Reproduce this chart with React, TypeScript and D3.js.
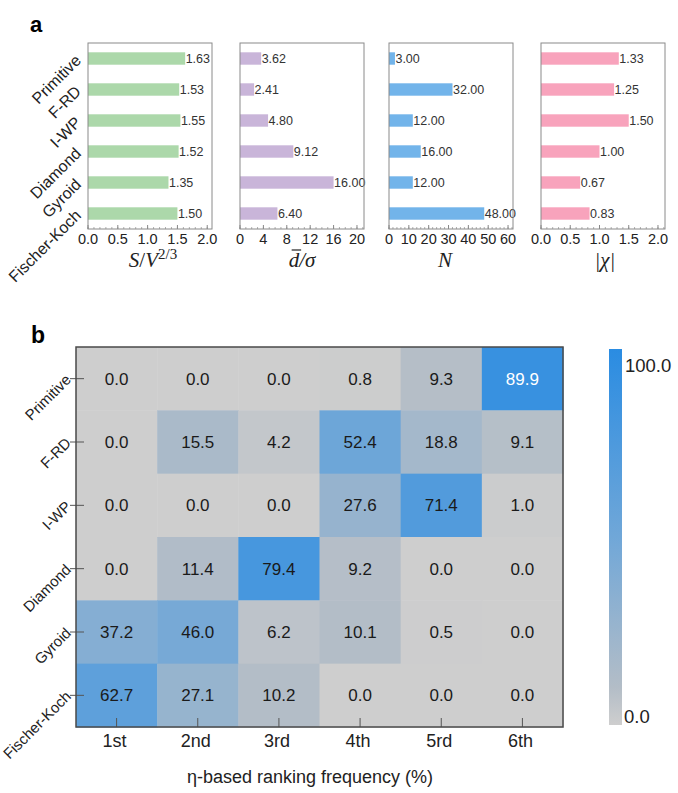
import React, { useEffect, useRef } from "react";
import * as d3 from "d3";

const structures = ["Primitive", "F-RD", "I-WP", "Diamond", "Gyroid", "Fischer-Koch"];

// panel a values, top to bottom
const surfaceToVolume = [1.63, 1.53, 1.55, 1.52, 1.35, 1.5];
const distanceRatio = [3.62, 2.41, 4.8, 9.12, 16.0, 6.4];
const genusN = [3, 32, 12, 16, 12, 48];
const eulerChi = [1.33, 1.25, 1.5, 1.0, 0.67, 0.83];

const svTicks = [0, 0.5, 1.0, 1.5, 2.0];
const dTicks = [0, 4, 8, 12, 16, 20];
const nTicks = [0, 10, 20, 30, 40, 50, 60];
const chiTicks = [0, 0.5, 1.0, 1.5, 2.0];

// panel b
const ranks = ["1st", "2nd", "3rd", "4th", "5rd", "6th"];
const freqPrimitive = [0.0, 0.0, 0.0, 0.8, 9.3, 89.9];
const freqFRD = [0.0, 15.5, 4.2, 52.4, 18.8, 9.1];
const freqIWP = [0.0, 0.0, 0.0, 27.6, 71.4, 1.0];
const freqDiamond = [0.0, 11.4, 79.4, 9.2, 0.0, 0.0];
const freqGyroid = [37.2, 46.0, 6.2, 10.1, 0.5, 0.0];
const freqFK = [62.7, 27.1, 10.2, 0.0, 0.0, 0.0];
const colorStops = [0, 10, 50, 100];

const SANS = "'Liberation Sans', Arial, sans-serif";
const SERIF = "'Liberation Serif', 'Times New Roman', serif";

const App = () => {
  const ref = useRef<SVGSVGElement>(null);

  useEffect(() => {
    if (!ref.current) return;
    const svg = d3.select(ref.current);
    svg.selectAll("*").remove();

    // ---------- panel a ----------
    const top = 43;
    const bottom = 229;
    const y = d3.scaleBand<string>().domain(structures).range([top, bottom]).paddingInner(0.6).paddingOuter(0.3);

    const panels = [
      { left: 88, max: 2.08, values: surfaceToVolume, ticks: svTicks, minor: 0.1, fmt: d3.format(".1f"), color: "#acd8aa" },
      { left: 240, max: 21.2, values: distanceRatio, ticks: dTicks, minor: 1, fmt: d3.format("d"), color: "#c9b5d9" },
      { left: 389, max: 62.5, values: genusN, ticks: nTicks, minor: 2, fmt: d3.format("d"), color: "#72b4ea" },
      { left: 541, max: 2.12, values: eulerChi, ticks: chiTicks, minor: 0.1, fmt: d3.format(".1f"), color: "#f8a3bc" },
    ];
    const panelW = 124;

    panels.forEach((p) => {
      const x = d3.scaleLinear().domain([0, p.max]).range([p.left, p.left + panelW]);
      const g = svg.append("g");

      g.selectAll("rect.bar")
        .data(p.values)
        .enter()
        .append("rect")
        .attr("x", x(0))
        .attr("y", (d, i) => y(structures[i]) || 0)
        .attr("width", (d) => x(d) - x(0))
        .attr("height", y.bandwidth())
        .attr("fill", p.color);

      g.selectAll("text.val")
        .data(p.values)
        .enter()
        .append("text")
        .attr("x", (d) => x(d) + 0.5)
        .attr("y", (d, i) => (y(structures[i]) || 0) + y.bandwidth() / 2 + 4.5)
        .style("font-family", SANS)
        .style("font-size", "12.5px")
        .style("fill", "#333")
        .text((d) => d.toFixed(2));

      // minor + major ticks, pointing inward
      const minorTicks = d3.range(0, p.max + 1e-9, p.minor);
      g.selectAll("line.minor")
        .data(minorTicks)
        .enter()
        .append("line")
        .attr("x1", (d) => x(d))
        .attr("x2", (d) => x(d))
        .attr("y1", bottom)
        .attr("y2", bottom - 2)
        .attr("stroke", "#999")
        .attr("stroke-width", 0.8);
      g.selectAll("line.major")
        .data(p.ticks)
        .enter()
        .append("line")
        .attr("x1", (d) => x(d))
        .attr("x2", (d) => x(d))
        .attr("y1", bottom)
        .attr("y2", bottom - 4)
        .attr("stroke", "#888")
        .attr("stroke-width", 1);

      g.selectAll("text.tick")
        .data(p.ticks)
        .enter()
        .append("text")
        .attr("x", (d) => x(d))
        .attr("y", bottom + 15)
        .attr("text-anchor", "middle")
        .style("font-family", SANS)
        .style("font-size", "14.5px")
        .style("fill", "#222")
        .text((d) => p.fmt(d));

      g.append("rect")
        .attr("x", p.left)
        .attr("y", top)
        .attr("width", panelW)
        .attr("height", bottom - top)
        .attr("fill", "none")
        .attr("stroke", "#8a8a8a")
        .attr("stroke-width", 1);
    });

    // panel a category labels
    svg.selectAll("text.acat")
      .data(structures)
      .enter()
      .append("text")
      .attr("transform", (d) => `translate(82,${(y(d) || 0) + y.bandwidth() / 2 + 3}) rotate(-45)`)
      .attr("text-anchor", "end")
      .style("font-family", SANS)
      .style("font-size", "16px")
      .style("fill", "#222")
      .text((d) => d);

    // axis titles
    const titleY = 267;
    const t1 = svg.append("text").attr("x", 153).attr("y", titleY).attr("text-anchor", "middle")
      .style("font-family", SERIF).style("font-size", "21px").style("font-style", "italic").style("fill", "#222");
    t1.append("tspan").text("S");
    t1.append("tspan").text("/").style("font-style", "normal");
    t1.append("tspan").text("V");
    t1.append("tspan").attr("dy", -8).style("font-size", "15px").style("font-style", "normal").text("2/3");

    const t2 = svg.append("text").attr("x", 302).attr("y", titleY).attr("text-anchor", "middle")
      .style("font-family", SERIF).style("font-size", "21px").style("font-style", "italic").style("fill", "#222")
      .text("d/\u03c3");
    const t2node = t2.node() as SVGTextElement | null;
    if (t2node) {
      const box = t2node.getExtentOfChar(0);
      svg.append("line")
        .attr("x1", box.x + 3)
        .attr("x2", box.x + box.width + 2)
        .attr("y1", titleY - 17)
        .attr("y2", titleY - 17)
        .attr("stroke", "#222")
        .attr("stroke-width", 1.2);
    }

    svg.append("text").attr("x", 445).attr("y", titleY).attr("text-anchor", "middle")
      .style("font-family", SERIF).style("font-size", "21px").style("font-style", "italic").style("fill", "#222")
      .text("N");

    svg.append("text").attr("x", 605).attr("y", titleY).attr("text-anchor", "middle")
      .style("font-family", SERIF).style("font-size", "21px").style("font-style", "italic").style("fill", "#222")
      .text("|\u03c7|");

    svg.append("text").attr("x", 30).attr("y", 32)
      .style("font-family", SANS).style("font-size", "22px").style("font-weight", "bold").text("a");

    // ---------- panel b ----------
    const matrix = [freqPrimitive, freqFRD, freqIWP, freqDiamond, freqGyroid, freqFK];
    const hx = d3.scaleBand<string>().domain(ranks).range([76, 563]);
    const hy = d3.scaleBand<string>().domain(structures).range([347, 727]);
    const color = d3.scaleLinear<string>()
      .domain(colorStops)
      .range(["#cecece", "#b3bdc7", "#70a7d8", "#2a8ce2"])
      .interpolate(d3.interpolateRgb);

    const cells = matrix.flatMap((row, r) => row.map((v, c) => ({ r, c, v })));

    svg.append("g")
      .selectAll("rect")
      .data(cells)
      .enter()
      .append("rect")
      .attr("x", (d) => hx(ranks[d.c]) || 0)
      .attr("y", (d) => hy(structures[d.r]) || 0)
      .attr("width", hx.bandwidth() + 0.5)
      .attr("height", hy.bandwidth() + 0.5)
      .attr("fill", (d) => color(d.v));

    svg.append("g")
      .selectAll("text")
      .data(cells)
      .enter()
      .append("text")
      .attr("x", (d) => (hx(ranks[d.c]) || 0) + hx.bandwidth() / 2)
      .attr("y", (d) => (hy(structures[d.r]) || 0) + hy.bandwidth() / 2 + 6)
      .attr("text-anchor", "middle")
      .style("font-family", SANS)
      .style("font-size", "17px")
      .style("fill", (d) => (d.v > 85 ? "#fff" : "#1a1a1a"))
      .text((d) => d.v.toFixed(1));

    // ticks
    svg.append("g")
      .selectAll("line")
      .data(ranks)
      .enter()
      .append("line")
      .attr("x1", (d) => (hx(d) || 0) + hx.bandwidth() / 2)
      .attr("x2", (d) => (hx(d) || 0) + hx.bandwidth() / 2)
      .attr("y1", 727)
      .attr("y2", 718)
      .attr("stroke", "#555")
      .attr("stroke-width", 1);

    svg.append("g")
      .selectAll("line")
      .data(structures)
      .enter()
      .append("line")
      .attr("x1", 70)
      .attr("x2", 84)
      .attr("y1", (d) => (hy(d) || 0) + hy.bandwidth() / 2)
      .attr("y2", (d) => (hy(d) || 0) + hy.bandwidth() / 2)
      .attr("stroke", "#555")
      .attr("stroke-width", 1);

    svg.append("rect")
      .attr("x", 76).attr("y", 347).attr("width", 563 - 76).attr("height", 727 - 347)
      .attr("fill", "none").attr("stroke", "#4a4a4a").attr("stroke-width", 1.5);

    svg.append("g")
      .selectAll("text")
      .data(ranks)
      .enter()
      .append("text")
      .attr("x", (d) => (hx(d) || 0) + hx.bandwidth() / 2 - 2)
      .attr("y", 747)
      .attr("text-anchor", "middle")
      .style("font-family", SANS)
      .style("font-size", "18px")
      .style("fill", "#222")
      .text((d) => d);

    svg.append("g")
      .selectAll("text")
      .data(structures)
      .enter()
      .append("text")
      .attr("transform", (d) => `translate(72,${(hy(d) || 0) + hy.bandwidth() / 2 + 2}) rotate(-45)`)
      .attr("text-anchor", "end")
      .style("font-family", SANS)
      .style("font-size", "15px")
      .style("fill", "#222")
      .text((d) => d);

    svg.append("text").attr("x", 310).attr("y", 783).attr("text-anchor", "middle")
      .style("font-family", SANS).style("font-size", "18px").style("fill", "#222")
      .text("\u03b7-based ranking frequency (%)");

    svg.append("text").attr("x", 31).attr("y", 343)
      .style("font-family", SANS).style("font-size", "23px").style("font-weight", "bold").text("b");

    // colorbar
    const defs = svg.append("defs");
    const grad = defs.append("linearGradient")
      .attr("id", "cbar").attr("x1", "0%").attr("x2", "0%").attr("y1", "100%").attr("y2", "0%");
    colorStops.forEach((s) => {
      grad.append("stop").attr("offset", `${s}%`).attr("stop-color", color(s));
    });
    svg.append("rect")
      .attr("x", 609).attr("y", 349).attr("width", 13).attr("height", 376)
      .attr("fill", "url(#cbar)");
    svg.append("text").attr("x", 625).attr("y", 372)
      .style("font-family", SANS).style("font-size", "18.5px").style("fill", "#222").text("100.0");
    svg.append("text").attr("x", 624).attr("y", 723)
      .style("font-family", SANS).style("font-size", "18.5px").style("fill", "#222").text("0.0");
  }, []);

  return (
    <div style={{ position: "absolute", left: 0, top: 0 }}>
      <svg ref={ref} width={678} height={793} style={{ display: "block", background: "#fff" }} />
    </div>
  );
};

export default App;
